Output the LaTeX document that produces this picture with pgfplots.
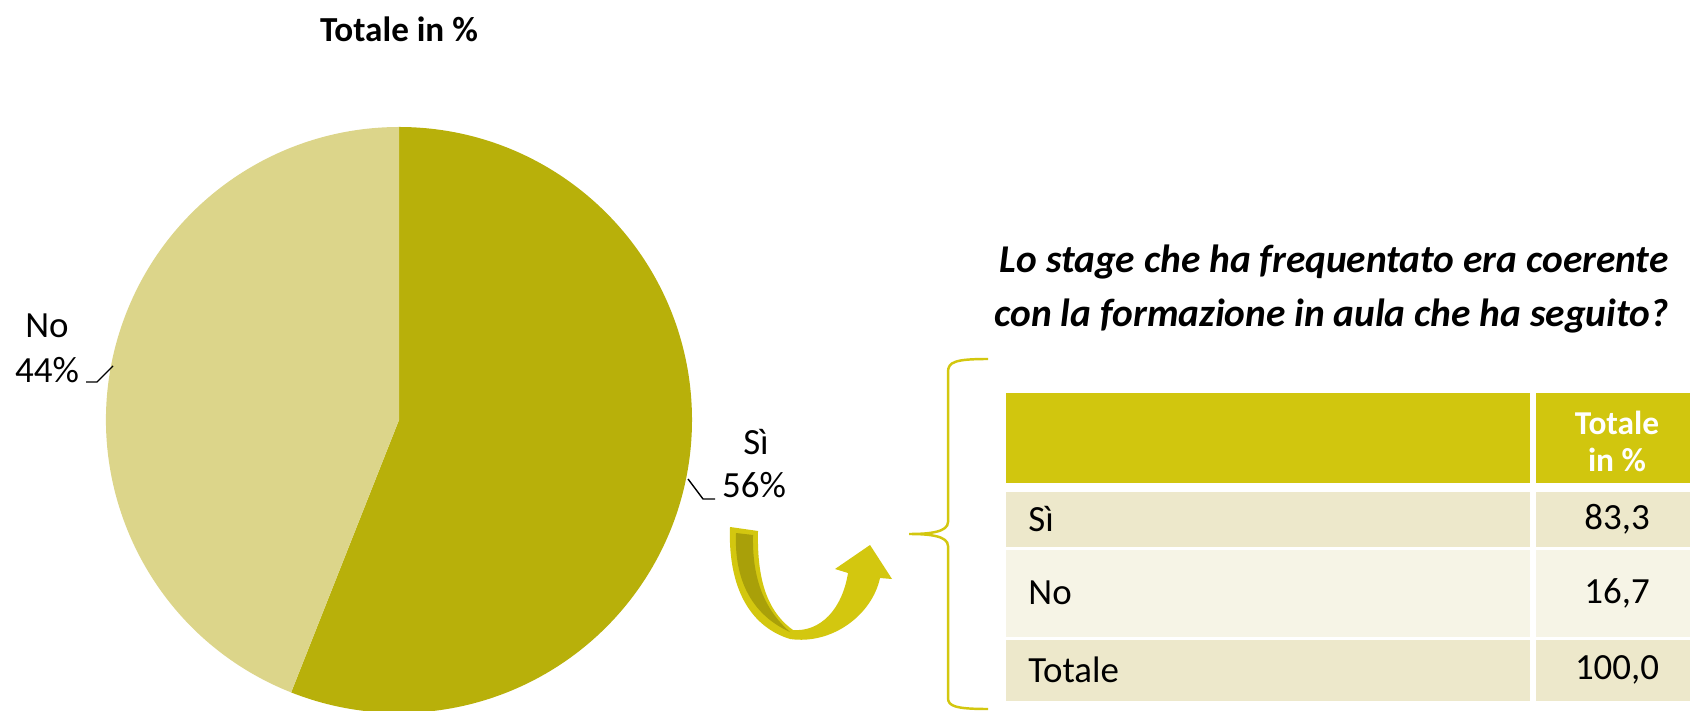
\documentclass[border=0pt]{standalone}
\usepackage{fontspec}
\setmainfont{Carlito}
\usepackage{pgfplots}
\pgfplotsset{compat=1.18}
\usepackage{pgfplotstable}

\definecolor{siCol}{HTML}{B8B00A}
\definecolor{noCol}{HTML}{DCD58A}
\definecolor{head}{HTML}{D1C60E}
\definecolor{rowA}{HTML}{EDE8CB}
\definecolor{rowB}{HTML}{F6F4E6}
\definecolor{arrowC}{HTML}{D3C70F}
\definecolor{arrowD}{HTML}{A9A009}

% pie data (percent)
\pgfplotstableread{
risposta valore
Si 56
No 44
}\piedata

\begin{document}
\begin{tikzpicture}
\pgfplotstablegetelem{0}{valore}\of\piedata
\pgfmathsetmacro\aend{90-3.6*\pgfplotsretval}
\begin{axis}[width=16.9cm,height=7.11cm,scale only axis,hide axis,
  xmin=0,xmax=1690,ymin=0,ymax=711,y dir=reverse,clip=true]
% pie, 1 unit = 0.1mm
\fill[siCol] (axis cs:399,420) -- ++(90:29.3mm) arc[start angle=90,end angle=\aend,radius=29.3mm] -- cycle;
\fill[noCol] (axis cs:399,420) -- ++(\aend:29.3mm) arc[start angle=\aend,end angle=-270,radius=29.3mm] -- cycle;

\node[font=\fontsize{10}{12}\selectfont\bfseries] at (axis cs:399,29) {Totale in \%};
\begin{scope}[every node/.style={font=\fontsize{10.5}{12}\selectfont}]
\node at (axis cs:47,326) {No};
\node at (axis cs:47,370) {44\%};
\node at (axis cs:756,442) {Sì};
\node at (axis cs:754,485) {56\%};
\end{scope}
\draw[line width=0.4pt] (axis cs:86,382) -- (axis cs:97,382) -- (axis cs:113,366);
\draw[line width=0.4pt] (axis cs:688,479) -- (axis cs:703,499) -- (axis cs:715,499);

% curved arrow
\fill[arrowC] (axis cs:730,527) .. controls (axis cs:728,580) and (axis cs:745,625) .. (axis cs:790,639)
  .. controls (axis cs:832,645) and (axis cs:872,615) .. (axis cs:880,578) -- (axis cs:892,579)
  -- (axis cs:870,545) -- (axis cs:835,569) -- (axis cs:848,573)
  .. controls (axis cs:842,610) and (axis cs:820,632) .. (axis cs:793,630)
  .. controls (axis cs:765,610) and (axis cs:757,575) .. (axis cs:758,531) -- cycle;
\fill[arrowD] (axis cs:736,533) -- (axis cs:753,535) .. controls (axis cs:752,580) and (axis cs:765,610) .. (axis cs:790,632)
  .. controls (axis cs:752,615) and (axis cs:734,580) .. (axis cs:736,533) -- cycle;

% question
\node[anchor=east,align=right,font=\fontsize{11.2}{15.4}\selectfont\bfseries\itshape] at (axis cs:1681,289)
  {Lo stage che ha frequentato era coerente\\con la formazione in aula che ha seguito?};

% brace
\draw[arrowC,line width=0.7pt] (axis cs:988,359) .. controls (axis cs:955,359) and (axis cs:948,362) .. (axis cs:948,372)
  -- (axis cs:948,522) .. controls (axis cs:948,532) and (axis cs:930,534) .. (axis cs:909,534)
  .. controls (axis cs:930,534) and (axis cs:948,536) .. (axis cs:948,546)
  -- (axis cs:948,698) .. controls (axis cs:948,706) and (axis cs:955,709) .. (axis cs:988,709);

% table
\fill[head] (axis cs:1006,393) rectangle (axis cs:1530,483);
\fill[head] (axis cs:1536,393) rectangle (axis cs:1690,483);
\fill[rowA] (axis cs:1006,492) rectangle (axis cs:1530,547);
\fill[rowA] (axis cs:1536,492) rectangle (axis cs:1690,547);
\fill[rowB] (axis cs:1006,550) rectangle (axis cs:1530,637);
\fill[rowB] (axis cs:1536,550) rectangle (axis cs:1690,637);
\fill[rowA] (axis cs:1006,640) rectangle (axis cs:1530,701);
\fill[rowA] (axis cs:1536,640) rectangle (axis cs:1690,701);
\node[white,align=center,font=\fontsize{9.5}{10.5}\selectfont\bfseries] at (axis cs:1617,441) {Totale\\in \%};
\begin{scope}[every node/.style={font=\fontsize{10.5}{12}\selectfont}]
\node[anchor=west] at (axis cs:1016,519) {Sì};
\node[anchor=west] at (axis cs:1016,593) {No};
\node[anchor=west] at (axis cs:1016,670) {Totale};
\node at (axis cs:1617,519) {83,3};
\node at (axis cs:1617,593) {16,7};
\node at (axis cs:1617,670) {100,0};
\end{scope}
\end{axis}
\pgfresetboundingbox
\useasboundingbox (0,0) rectangle (16.9cm,7.11cm);
\end{tikzpicture}
\end{document}
